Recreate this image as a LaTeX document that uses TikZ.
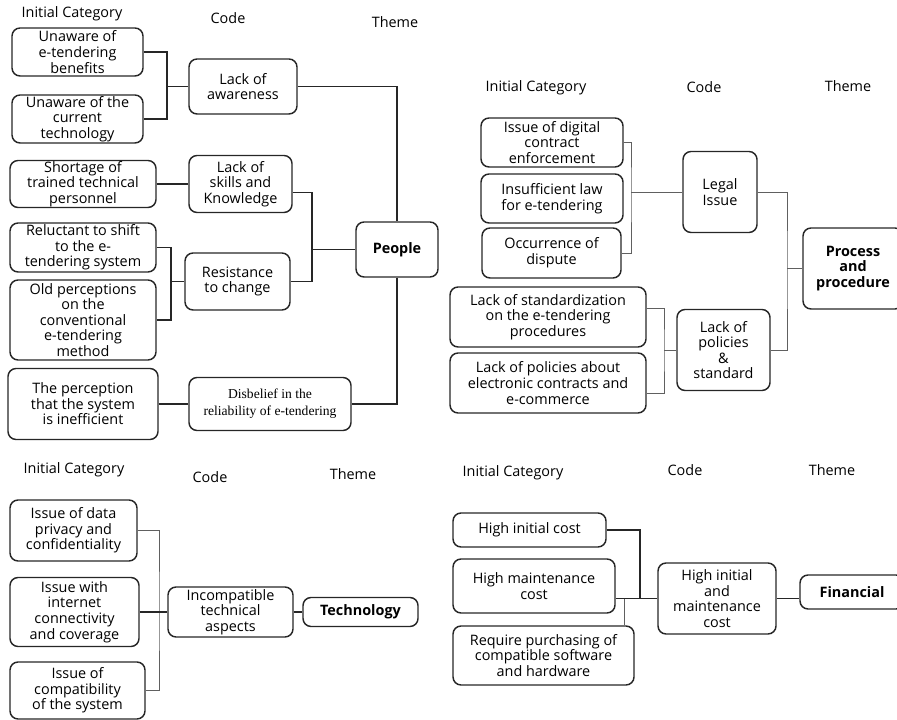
\documentclass[tikz,border=0pt]{standalone}
\usepackage{fontspec}
\setmainfont{Open Sans}
\newfontfamily\disfont{Liberation Serif}
\usepackage{tikz}

\begin{document}
\begin{tikzpicture}[x=0.75pt, y=-0.75pt,
    sz/.style 2 args={minimum width=#1*0.75pt, minimum height=#2*0.75pt},
    cat/.style={draw=black!85, line width=1.1pt, rounded corners=6pt, align=center, inner sep=0pt,
        font=\fontsize{10.8}{11.7}\selectfont},
    theme/.style={cat, font=\fontsize{10.8}{11.7}\selectfont\bfseries},
    head/.style={font=\fontsize{10.8}{11.7}\selectfont, inner sep=0pt},
    link/.style={black!85, line width=0.9pt},
    thinlink/.style={gray!75!black, line width=0.6pt}]

    \useasboundingbox (0,0) rectangle (897,720);

    % Titres des colonnes (People)
    \node[head] (hdA1) at (72,14) {Initial Category};
    \node[head] (hdA2) at (228,18) {Code};
    \node[head] (hdA3) at (395,22) {Theme};

    % Catégories initiales (People)
    \node[cat, sz={131}{48}] (aware1) at (77.5,52) {Unaware of\\e-tendering\\benefits};
    \node[cat, sz={131}{48}] (aware2) at (77.5,119) {Unaware of the\\current\\technology};
    \node[cat, sz={146}{47}] (skill1) at (83,184) {Shortage of\\trained technical\\personnel};
    \node[cat, sz={146}{49}] (resist1) at (83,247.5) {Reluctant to shift\\to the e-\\tendering system};
    \node[cat, sz={146}{80}] (resist2) at (83,320) {Old perceptions\\on the\\conventional\\e-tendering\\method};
    \node[cat, sz={150}{71}] (belief1) at (83,404) {The perception\\that the system\\is inefficient};

    % Codes (People)
    \node[cat, sz={108}{55}] (awareness) at (243,86.5) {Lack of\\awareness};
    \node[cat, sz={103}{57}] (skills) at (240.5,184) {Lack of\\skills and\\Knowledge};
    \node[cat, sz={105}{57}] (resistance) at (237.5,281.5) {Resistance\\to change};
    \node[cat, sz={162}{53}, font=\disfont\fontsize{10.2}{13}\selectfont] (disbelief) at (270,404) {Disbelief in the\\reliability of e-tendering};

    % Thème
    \node[theme, sz={82}{55}] (people) at (397,249.5) {People};

    \coordinate (ja1) at (167,86.5);
    \coordinate (ja2) at (171,281.5);
    \coordinate (ja3) at (312,249.5);

    \draw[link] (aware1.east) -| (ja1) |- (aware2.east);
    \draw[link] (ja1) -- (awareness.west);
    \draw[link] (skill1.east) -- (skills.west);
    \draw[link] (resist1.east) -| (ja2) |- (resist2.east);
    \draw[link] (ja2) -- (resistance.west);
    \draw[link] (belief1.east) -- (disbelief.west);
    \draw[link] (skills.-9) -| (ja3) |- (resistance.east);
    \draw[link] (ja3) -- (people.west);
    \draw[link] (awareness.east) -| (people.north);
    \draw[link] (people.south) |- (disbelief.east);

    % Titres des colonnes (Process)
    \node[head] (hdB1) at (536,88) {Initial Category};
    \node[head] (hdB2) at (704,87) {Code};
    \node[head] (hdB3) at (848,86) {Theme};

    % Catégories initiales (Process)
    \node[cat, sz={142}{49}] (legal1) at (552,142.5) {Issue of digital\\contract\\enforcement};
    \node[cat, sz={142}{49}] (legal2) at (552,198.5) {Insufficient law\\for e-tendering};
    \node[cat, sz={139}{50}] (legal3) at (551.5,253) {Occurrence of\\dispute};
    \node[cat, sz={196}{60}] (policy1) at (548,317) {Lack of standardization\\on the e-tendering\\procedures};
    \node[cat, sz={196}{60}] (policy2) at (548,383) {Lack of policies about\\electronic contracts and\\e-commerce};

    % Codes (Process)
    \node[cat, sz={74}{81}] (legal) at (720,192) {Legal\\Issue};
    \node[cat, sz={93}{81}] (policies) at (723.5,350) {Lack of\\policies\\\&\\standard};

    % Thème
    \node[theme, sz={100}{81}] (process) at (853,268.5) {Process\\and\\procedure};

    \coordinate (jb1) at (631,192);
    \coordinate (jb2) at (787,268.5);
    \coordinate (jb3) at (664,350);

    \draw[thinlink] (legal1.east) -| (jb1) |- (legal3.east);
    \draw[thinlink] (jb1) -- (legal.west);
    \draw[thinlink] (policy1.5) -| (jb3) |- (policy2.-6);
    \draw[thinlink] (jb3) -- (policies.west);
    \draw[thinlink] (legal.east) -| (jb2) |- (policies.east);
    \draw[thinlink] (jb2) -- (process.west);

    % Titres des colonnes (Technology)
    \node[head] (hdC1) at (74,470) {Initial Category};
    \node[head] (hdC2) at (210,477) {Code};
    \node[head] (hdC3) at (353,474) {Theme};

    % Catégories initiales (Technology)
    \node[cat, sz={127}{61}] (tech1) at (73.5,530.5) {Issue of data\\privacy and\\confidentiality};
    \node[cat, sz={129}{69}] (tech2) at (74.5,612) {Issue with\\internet\\connectivity\\and coverage};
    \node[cat, sz={135}{57}] (tech3) at (77.5,690.5) {Issue of\\compatibility\\of the system};

    % Code et thème (Technology)
    \node[cat, sz={125}{50}] (incompatible) at (230.5,612) {Incompatible\\technical\\aspects};
    \node[theme, sz={115}{29}] (technology) at (360.5,612) {Technology};

    \coordinate (jc1) at (159,612);

    \draw[thinlink] (tech1.east) -| (jc1) |- (tech3.east);
    \draw[link] (tech2.east) -- (incompatible.west);
    \draw[link] (incompatible.east) -- (technology.west);

    % Titres des colonnes (Financial)
    \node[head] (hdD1) at (513,473) {Initial Category};
    \node[head] (hdD2) at (685,470) {Code};
    \node[head] (hdD3) at (832,470) {Theme};

    % Catégories initiales (Financial)
    \node[cat, sz={153}{34}] (cost1) at (529.5,530) {High initial cost};
    \node[cat, sz={162}{54}] (cost2) at (534,586) {High maintenance\\cost};
    \node[cat, sz={181}{59}] (cost3) at (543.5,655.5) {Require purchasing of\\compatible software\\and hardware};

    % Code et thème (Financial)
    \node[cat, sz={118}{71}] (costs) at (717,598.5) {High initial\\and\\maintenance\\cost};
    \node[theme, sz={104}{34}] (financial) at (852,592) {Financial};

    \coordinate (jd1) at (640,598.5);
    \coordinate (jd2) at (624,598.5);

    \draw[link] (cost1.east) -| (jd1);
    \draw[link] (cost2.east |- costs.west) -- (costs.west);
    \draw[thinlink] (jd2) -- (jd2 |- cost3.north);
    \draw[link] (costs.east) -- (costs.east -| financial.west);

\end{tikzpicture}
\end{document}
